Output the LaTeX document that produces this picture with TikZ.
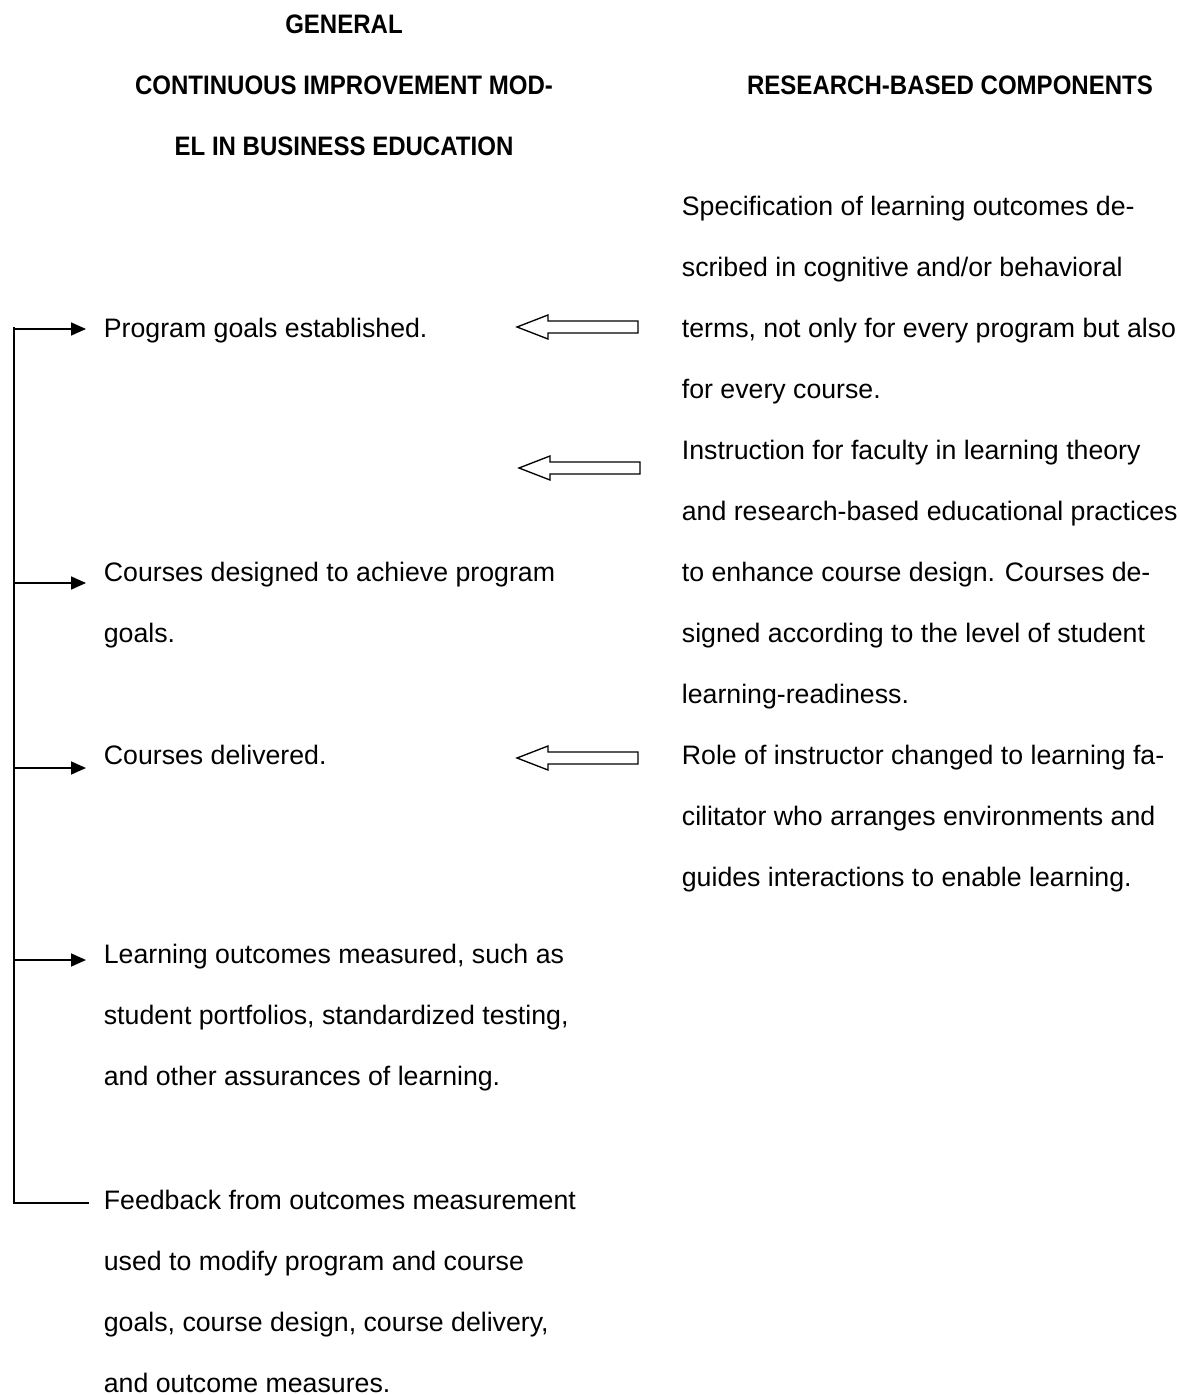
\documentclass[tikz,border=0pt]{standalone}
\usepackage{fontspec}
\setmainfont{Liberation Sans}
\newfontfamily\headfont{Liberation Sans}[FakeStretch=0.9]
\usetikzlibrary{arrows.meta}
\tikzset{
  txt/.style={anchor=base west,align=left,inner sep=0pt,font=\fontsize{12}{27.4}\selectfont},
  headtxt/.style={anchor=base,inner sep=0pt,font=\headfont\fontsize{12}{27.4}\selectfont\bfseries},
  hollowarrow/.pic={\draw[line width=0.6pt] (0,0) -- (31,-12) -- (31,-6) -- (121,-6)
      -- (121,6) -- (31,6) -- (31,12) -- cycle;}
}
\begin{document}
\begin{tikzpicture}[x=0.4494pt,y=-0.4494pt,>={Triangle[length=6.7pt,width=5.8pt]},line join=miter,line width=0.8pt]
  \useasboundingbox (0,0) rectangle (1179,1395);
  % headings
  \node[headtxt] (genl) at (344,34) {GENERAL};
  \node[headtxt] (cimp) at (344,95) {CONTINUOUS IMPROVEMENT MOD-};
  \node[headtxt] (ined) at (344,156) {EL IN BUSINESS EDUCATION};
  \node[headtxt] (rbc) at (950,95) {RESEARCH-BASED COMPONENTS};

  % model steps (base = last line)
  \node[txt] (goals) at (103,337) {Program goals established.};
  \node[txt] (design) at (103,642) {Courses designed to achieve program\\goals.};
  \node[txt] (deliver) at (103,764) {Courses delivered.};
  \node[txt] (measure) at (103,1085) {Learning outcomes measured, such as\\student portfolios, standardized testing,\\and other assurances of learning.};
  \node[txt] (feedback) at (103,1392) {Feedback from outcomes measurement\\used to modify program and course\\goals, course design, course delivery,\\and outcome measures.};

  % components
  \node[txt] (spec) at (681,398) {Specification of learning outcomes de-\\scribed in cognitive and/or behavioral\\terms, not only for every program but also\\for every course.};
  \node[txt] (instr) at (681,703) {Instruction for faculty in learning theory\\and research-based educational practices\\to enhance course design. Courses de-\\signed according to the level of student\\learning-readiness.};
  \node[txt] (role) at (681,886) {Role of instructor changed to learning fa-\\cilitator who arranges environments and\\guides interactions to enable learning.};

  % feedback loop
  \path (14,327) coordinate (top)
        (14,1203) coordinate (bot)
        (89,1203) coordinate (fb);
  \draw (top) -- (bot) -- (fb);
  \foreach \n/\y in {goals/329,design/583,deliver/768,measure/960}{
    \path (14,\y) coordinate (s-\n) (86,\y) coordinate (t-\n);
    \draw[->] (s-\n) -- (t-\n);
  }

  % hollow arrows
  \foreach \n/\x/\y in {spec/517/327,instr/519/468,role/517/758}
    \pic (ha-\n) at (\x,\y) {hollowarrow};
\end{tikzpicture}
\end{document}
